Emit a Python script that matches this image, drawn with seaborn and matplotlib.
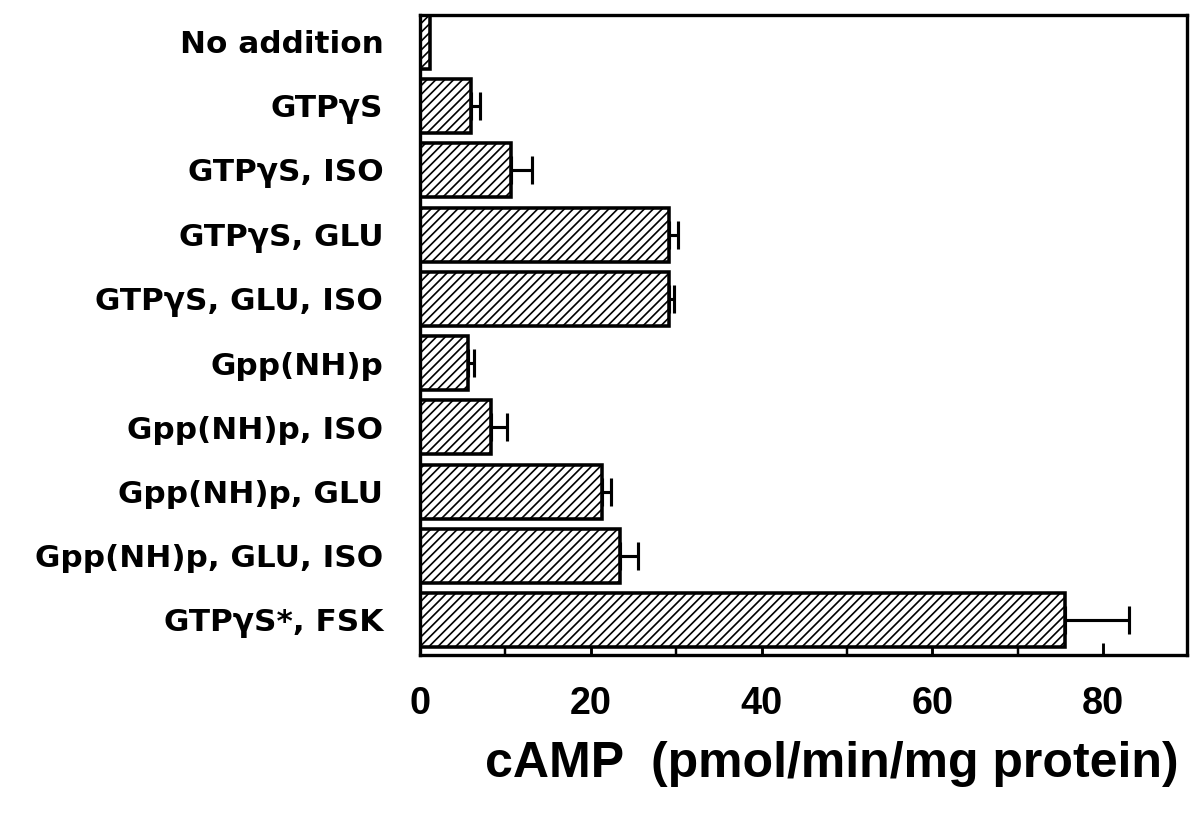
import matplotlib
matplotlib.use("Agg")
import matplotlib.pyplot as plt
import seaborn as sns
import pandas as pd
import numpy as np

conditions = ["No addition", "GTPγS", "GTPγS, ISO", "GTPγS, GLU", "GTPγS, GLU, ISO",
              "Gpp(NH)p", "Gpp(NH)p, ISO", "Gpp(NH)p, GLU", "Gpp(NH)p, GLU, ISO",
              "GTPγS*, FSK"]
camp = [1.2, 6.0, 10.7, 29.2, 29.2, 5.6, 8.3, 21.3, 23.4, 75.5]
sem = [0.0, 1.0, 2.4, 1.0, 0.5, 0.7, 1.9, 1.1, 2.1, 7.5]
xticks = [0, 20, 40, 60, 80]
minor_xticks = [10, 30, 50, 70]

sns.set_style("ticks")
plt.rcParams["font.family"] = ["Liberation Sans", "DejaVu Sans"]
plt.rcParams["font.weight"] = "bold"
plt.rcParams["text.color"] = "black"
plt.rcParams["xtick.color"] = "black"
plt.rcParams["ytick.color"] = "black"
plt.rcParams["axes.labelcolor"] = "black"
plt.rcParams["hatch.linewidth"] = 1.5
plt.rcParams["hatch.color"] = "black"

df = pd.DataFrame({"condition": conditions, "camp": camp, "sem": sem})

DPI = 80
fig = plt.figure(figsize=(1191 / DPI, 816 / DPI), dpi=DPI)
ax = fig.add_axes([420 / 1191, 1 - 655 / 816, (1187 - 420) / 1191, (655 - 15) / 816])

sns.barplot(data=df, x="camp", y="condition", orient="h", order=conditions,
            color="white", edgecolor="black", linewidth=3.2, width=0.84,
            errorbar=None, ax=ax)
for p in ax.patches:
    p.set_hatch("///")
    p.set_facecolor("white")
    p.set_edgecolor("black")

ypos = np.arange(len(conditions))
has_err = df["sem"] > 0
ax.errorbar(df["camp"][has_err], ypos[has_err],
            xerr=[np.zeros(int(has_err.sum())), df["sem"][has_err]], fmt="none",
            ecolor="black", elinewidth=2.8, capsize=12.5, capthick=2.8, zorder=3)

ax.set_xlim(0, 89.8)
ax.set_ylim(9.545, -0.42)
ax.set_xticks(xticks)
ax.set_xticks(minor_xticks, minor=True)
ax.set_xticklabels([str(t) for t in xticks], fontsize=34, fontweight="bold",
                   color="black")
ax.tick_params(axis="x", which="major", direction="in", length=11, width=2.6, pad=28)
ax.tick_params(axis="x", which="minor", direction="in", length=8, width=2.2)
ax.tick_params(axis="y", length=0, pad=33)
for lab in ax.get_yticklabels():
    lab.set_fontweight("bold")
    lab.set_fontsize(28)
    lab.set_family(["DejaVu Sans"])
    lab.set_color("black")

ax.set_ylabel("")
ax.set_xlabel("cAMP  (pmol/min/mg protein)", fontsize=45, fontweight="bold",
              color="black")
ax.xaxis.set_label_coords(0.537, -0.135)

for s in ax.spines.values():
    s.set_visible(True)
    s.set_linewidth(3.0)
    s.set_color("black")

fig.savefig("out.png", dpi=DPI, facecolor="white")
